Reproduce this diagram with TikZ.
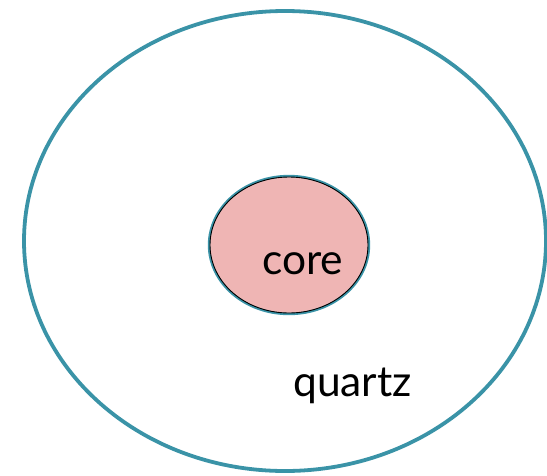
\documentclass[tikz,border=0pt]{standalone}
\usepackage{fontspec}
\setmainfont{Lato}
\definecolor{teal1}{HTML}{3A93A7}
\definecolor{corepink}{HTML}{EFB5B4}
\tikzset{
  outerring/.style={draw=teal1, line width=3.8pt},
  coreball/.style={fill=corepink, draw=teal1, line width=2.4pt},
  lbl/.style={font=\fontsize{42.5}{50}\selectfont, anchor=base west, inner sep=0pt}
}
\begin{document}
\begin{tikzpicture}[x=1pt,y=-1pt]
\useasboundingbox (0,0) rectangle (547,475);
\draw[outerring] (285,241) ellipse [x radius=261, y radius=230];
\draw[coreball] (289,245) ellipse [x radius=80, y radius=69];
\draw[black, line width=0.9pt] (289,245) ellipse [x radius=79, y radius=68];
\node[lbl] (core) at (262,274) {core};
\node[lbl] (quartz) at (293,396) {quartz};
\end{tikzpicture}
\end{document}
